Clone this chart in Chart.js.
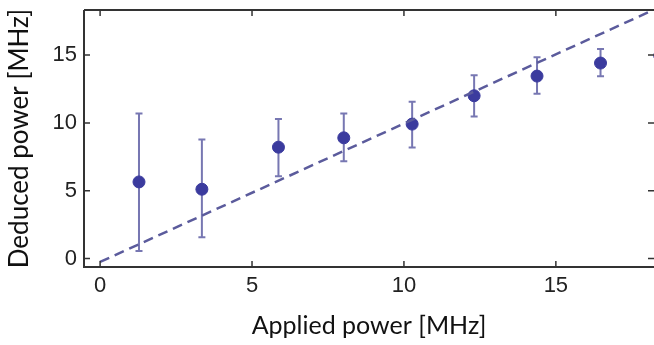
<!DOCTYPE html>
<html>
<head>
<meta charset="utf-8">
<script src="https://cdn.jsdelivr.net/npm/chart.js@4"></script>
<style>
html,body{margin:0;padding:0;background:#fff;}
#wrap{width:654px;height:345px;}
</style>
</head>
<body>
<div id="wrap"><canvas id="powerChart" width="654" height="345"></canvas></div>
<script>
/* DATA */
let applied=[1.28,3.35,5.87,8.02,10.27,12.31,14.38,16.47,18.42];
let deduced=[5.65,5.11,8.21,8.90,9.91,12.0,13.45,14.41,14.95];
let errLow=[0.56,1.57,6.07,7.18,8.19,10.48,12.15,13.43,14.2];
let errHigh=[10.70,8.78,10.28,10.70,11.56,13.51,14.83,15.45,15.8];
let fitX=[0,18.4];
let fitY=[-0.25,18.52];
let xTicks=[0,5,10,15];
let yTicks=[0,5,10,15];

let pts=applied.map((x,i)=>({x:x,y:deduced[i]}));
let fit=fitX.map((x,i)=>({x:x,y:fitY[i]}));

/* ERROR BARS + FRAME */
let errorBars={
id:"errorBars",
beforeDatasetsDraw(c){
let ctx=c.ctx, xs=c.scales.x, ys=c.scales.y, a=c.chartArea;
ctx.save();
ctx.beginPath();
ctx.rect(a.left,a.top,a.right-a.left,a.bottom-a.top);
ctx.clip();
ctx.strokeStyle="rgba(95,95,165,0.85)";
ctx.lineWidth=2;
applied.forEach((x,i)=>{
let px=xs.getPixelForValue(x);
let lo=ys.getPixelForValue(errLow[i]);
let hi=ys.getPixelForValue(errHigh[i]);
ctx.beginPath();
ctx.moveTo(px,lo);ctx.lineTo(px,hi);
ctx.moveTo(px-3.5,lo);ctx.lineTo(px+3.5,lo);
ctx.moveTo(px-3.5,hi);ctx.lineTo(px+3.5,hi);
ctx.stroke();
});
ctx.restore();
},
afterDraw(c){
let ctx=c.ctx, xs=c.scales.x, ys=c.scales.y, a=c.chartArea;
ctx.save();
ctx.strokeStyle="#333";
ctx.lineWidth=2;
ctx.beginPath();
ctx.moveTo(a.left,a.top);ctx.lineTo(a.left,a.bottom);ctx.lineTo(a.right,a.bottom);
ctx.moveTo(a.left,a.top);ctx.lineTo(a.right,a.top);
ctx.stroke();
ctx.lineWidth=1.5;
ctx.beginPath();
xTicks.forEach(t=>{
let px=xs.getPixelForValue(t);
ctx.moveTo(px,a.bottom);ctx.lineTo(px,a.bottom-6);
ctx.moveTo(px,a.top);ctx.lineTo(px,a.top+6);
});
yTicks.forEach(t=>{
let py=ys.getPixelForValue(t);
ctx.moveTo(a.left,py);ctx.lineTo(a.left+6,py);
ctx.moveTo(a.right,py);ctx.lineTo(a.right-6,py);
});
ctx.stroke();
ctx.restore();
}
};

let chart=new Chart(document.getElementById("powerChart"),{
type:"scatter",
data:{datasets:[
{
data:fit,
showLine:true,
borderColor:"#5b5b9c",
borderWidth:2.5,
borderDash:[10,6],
pointRadius:0,
fill:false
},
{
data:pts,
backgroundColor:"#3b3b9e",
borderColor:"#3b3b9e",
pointRadius:6,
pointHoverRadius:6
}
]},
options:{
responsive:false,
animation:false,
devicePixelRatio:1,
layout:{autoPadding:false,padding:{top:10,right:0,left:0,bottom:0}},
plugins:{legend:{display:false},tooltip:{enabled:false}},
scales:{
x:{
type:"linear",
min:-0.53,max:18.23,
afterFit(s){s.height=78;s.paddingLeft=0;s.paddingRight=0;},
afterBuildTicks(s){s.ticks=xTicks.map(v=>({value:v}));},
grid:{display:false,drawTicks:false},
border:{display:false},
ticks:{padding:6,color:"#222",font:{family:"'Liberation Sans', Arial, sans-serif",size:22}},
title:{display:true,text:"Applied power [MHz]",color:"#111",font:{family:"Lato",size:25},padding:{top:0}}
},
y:{
type:"linear",
min:-0.62,max:18.32,
afterFit(s){s.width=84;s.paddingTop=0;s.paddingBottom=0;},
afterBuildTicks(s){s.ticks=yTicks.map(v=>({value:v}));},
grid:{display:false,drawTicks:false},
border:{display:false},
ticks:{padding:7,color:"#222",font:{family:"'Liberation Sans', Arial, sans-serif",size:22}},
title:{display:true,text:"Deduced power [MHz]",color:"#111",font:{family:"Lato",size:26},padding:{bottom:0,top:4}}
}
}
},
plugins:[errorBars]
});
</script>
</body>
</html>
